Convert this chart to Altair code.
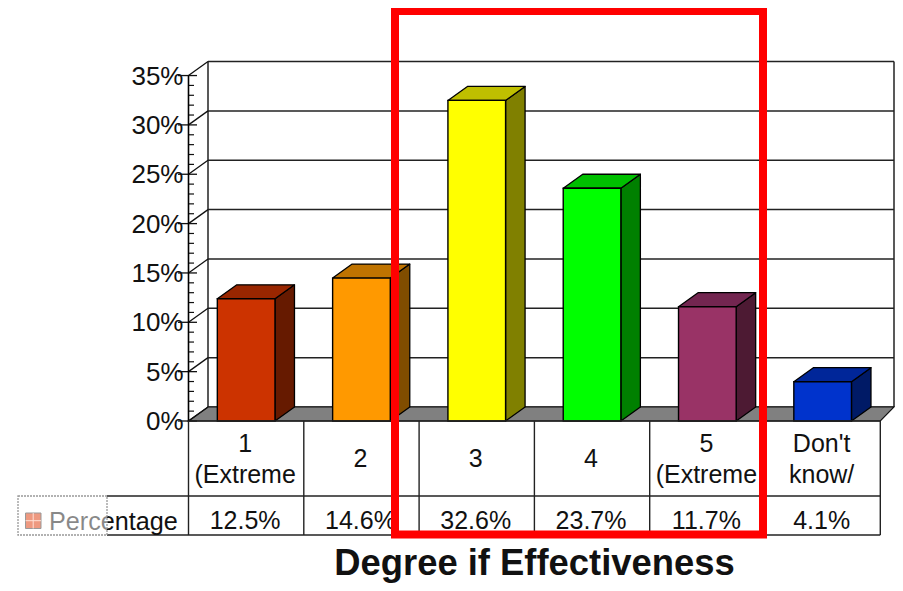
import altair as alt
import pandas as pd

categories = ["1", "2", "3", "4", "5", "Don't"]
second_line = ["(Extreme", "", "", "", "(Extreme", "know/"]
values = [12.5, 14.6, 32.6, 23.7, 11.7, 4.1]
value_labels = ["12.5%", "14.6%", "32.6%", "23.7%", "11.7%", "4.1%"]
front_colors = ["#CC3300", "#FF9900", "#FFFF00", "#00FF00", "#993366", "#0033CC"]
top_colors = ["#992600", "#BF7300", "#BFBF00", "#00BF00", "#732650", "#002699"]
side_colors = ["#661A00", "#804D00", "#808000", "#008000", "#4D1A33", "#001A66"]
y_ticks = [0, 5, 10, 15, 20, 25, 30, 35]
minor_ticks = [v for v in range(36) if v % 5]

# scale geometry: one x unit = one category, one y unit = one percent
PX_X, PX_Y = 115.3, 9.87
X0, Y0 = 188.5, 421.0
DX, DY = 19.5 / PX_X, 14.0 / PX_Y
BAR_INSET = 0.12
N = len(categories)
x_scale = alt.Scale(domain=[(8 - X0) / PX_X, (895 - X0) / PX_X], nice=False, zero=False)
y_scale = alt.Scale(domain=[(Y0 - 583) / PX_Y, (Y0 - 8) / PX_Y], nice=False, zero=False)


def px(v):
    return (v - X0) / PX_X


def py(v):
    return (Y0 - v) / PX_Y


WALL_R = px(894)  # right wall edge, kept inside the page

X = alt.X("x:Q", scale=x_scale, axis=None)
Y = alt.Y("y:Q", scale=y_scale, axis=None, stack=None)
X2 = alt.X2("x2:Q")
Y2 = alt.Y2("y2:Q")


def rules(rows, **mark):
    return alt.Chart(pd.DataFrame(rows)).mark_rule(**mark).encode(x=X, x2=X2, y=Y, y2=Y2)


# walls
grid = rules(
    [{"x": DX, "x2": WALL_R, "y": v + DY, "y2": v + DY} for v in y_ticks]
    + [{"x": DX, "x2": DX, "y": DY, "y2": 35 + DY},
       {"x": WALL_R, "x2": WALL_R, "y": DY, "y2": 35 + DY}],
    color="#222222", strokeWidth=1.5,
)
diagonals = rules(
    [{"x": 0, "x2": DX, "y": v, "y2": v + DY} for v in y_ticks],
    color="#111111", strokeWidth=1.3,
)

# floor
floor_df = pd.DataFrame([
    {"x": 0, "y": 0, "y2": 0},
    {"x": DX, "y": 0, "y2": DY},
    {"x": N, "y": 0, "y2": DY},
    {"x": WALL_R, "y": DY, "y2": DY},
])
floor = alt.Chart(floor_df).mark_area(
    orient="vertical", fill="#808080", stroke="#111111", strokeWidth=1.2
).encode(x=X, y=Y, y2=Y2)

# 3-D bar faces
faces = []
for i, raw in enumerate(values):
    v = raw - BAR_INSET
    a, b = i + 0.25, i + 0.75
    faces += [
        {"id": f"s{i}", "fillc": side_colors[i], "x": b, "y": 0, "y2": v},
        {"id": f"s{i}", "fillc": side_colors[i], "x": b + DX, "y": DY, "y2": v + DY},
        {"id": f"t{i}", "fillc": top_colors[i], "x": a, "y": v, "y2": v},
        {"id": f"t{i}", "fillc": top_colors[i], "x": a + DX, "y": v, "y2": v + DY},
        {"id": f"t{i}", "fillc": top_colors[i], "x": b, "y": v, "y2": v + DY},
        {"id": f"t{i}", "fillc": top_colors[i], "x": b + DX, "y": v + DY, "y2": v + DY},
    ]
face_layer = alt.Chart(pd.DataFrame(faces)).mark_area(
    orient="vertical", stroke="#000000", strokeWidth=1.3, strokeJoin="round"
).encode(
    x=X, y=Y, y2=Y2,
    fill=alt.Fill("fillc:N", scale=None),
    detail="id:N",
)
front_df = pd.DataFrame({
    "x": [i + 0.25 for i in range(N)],
    "x2": [i + 0.75 for i in range(N)],
    "y": [0.0] * N,
    "y2": [v - BAR_INSET for v in values],
    "fillc": front_colors,
})
fronts = alt.Chart(front_df).mark_rect(stroke="#000000", strokeWidth=1.4).encode(
    x=X, x2=X2, y=Y, y2=Y2, fill=alt.Fill("fillc:N", scale=None)
)

# y axis
axis_line = rules([{"x": 0, "x2": 0, "y": 0, "y2": 35}], color="#000000", strokeWidth=1.6)
major = rules(
    [{"x": px(178), "x2": px(197), "y": v, "y2": v} for v in y_ticks],
    color="#111111", strokeWidth=1.3,
)
minor = rules(
    [{"x": 0, "x2": px(194), "y": v, "y2": v} for v in minor_ticks],
    color="#111111", strokeWidth=1.2,
)
y_labels = alt.Chart(pd.DataFrame({
    "x": [px(183.5)] * len(y_ticks), "y": y_ticks, "t": [f"{v}%" for v in y_ticks]
})).mark_text(
    align="right", baseline="alphabetic", dy=9, font="Liberation Sans", fontSize=26, color="#111111"
).encode(x=X, y=Y, text="t:N")

# data table
t1, t2 = py(496), py(535)
table = rules(
    [{"x": 0, "x2": N, "y": 0, "y2": 0},
     {"x": px(107), "x2": N, "y": t1, "y2": t1},
     {"x": px(107), "x2": N, "y": t2, "y2": t2}]
    + [{"x": i, "x2": i, "y": 0, "y2": t2} for i in range(N + 1)],
    color="#222222", strokeWidth=1.4,
)


def cell_text(rows):
    return alt.Chart(pd.DataFrame(rows)).mark_text(
        align="center", baseline="alphabetic", font="Liberation Sans", fontSize=25, dx=-1, color="#111111"
    ).encode(x=X, y=Y, text="t:N")


cat_rows = []
for i, (c, s) in enumerate(zip(categories, second_line)):
    if s:
        cat_rows += [{"x": i + 0.5, "y": py(452), "t": c}, {"x": i + 0.5, "y": py(483), "t": s}]
    else:
        cat_rows += [{"x": i + 0.5, "y": py(467), "t": c}]
cat_text = cell_text(cat_rows)
val_text = cell_text([{"x": i + 0.5, "y": py(529), "t": t} for i, t in enumerate(value_labels)])

series_label = alt.Chart(pd.DataFrame([{"x": px(49), "y": py(530), "t": "Percentage"}])).mark_text(
    align="left", baseline="alphabetic", font="Liberation Sans", fontSize=25.2, color="#111111"
).encode(x=X, y=Y, text="t:N")

# legend key and its selection box
fade = alt.Chart(pd.DataFrame([{"x": px(18), "x2": px(107), "y": t2, "y2": t1}])).mark_rect(
    fill="#FFFFFF", fillOpacity=0.5, stroke="#999999", strokeWidth=1.3, strokeDash=[2, 1]
).encode(x=X, x2=X2, y=Y, y2=Y2)
key = alt.Chart(pd.DataFrame([{"x": px(25.5), "x2": px(41), "y": py(528.5), "y2": py(513)}])).mark_rect(
    fill="#EE9980", stroke="#999999", strokeWidth=1
).encode(x=X, x2=X2, y=Y, y2=Y2)
key_cross = rules(
    [{"x": px(25.5), "x2": px(41), "y": py(520.7), "y2": py(520.7)},
     {"x": px(33.2), "x2": px(33.2), "y": py(528.5), "y2": py(513)}],
    color="#FFE0D6", strokeWidth=1,
)

# title
title = alt.Chart(pd.DataFrame([{"x": px(534.5), "y": py(575), "t": "Degree if Effectiveness"}])).mark_text(
    align="center", baseline="alphabetic", font="Liberation Sans", fontSize=36.4, fontWeight="bold", color="#111111"
).encode(x=X, y=Y, text="t:N")

# red highlight
highlight = alt.Chart(pd.DataFrame([{"x": px(395), "x2": px(763), "y": py(534.5), "y2": py(11)}])).mark_rect(
    fillOpacity=0, fill="#FFFFFF", stroke="#FF0000", strokeWidth=8, strokeJoin="miter"
).encode(x=X, x2=X2, y=Y, y2=Y2)

chart = alt.layer(
    grid, floor, diagonals, minor, major, axis_line, y_labels,
    face_layer, fronts, table, cat_text, val_text, series_label,
    fade, key, key_cross, title, highlight,
).properties(
    width=887, height=575, padding=0, autosize=alt.AutoSizeParams(type="none")
).configure_view(stroke=None)

chart.save("out.html", embed_options={"renderer": "svg", "actions": False})
